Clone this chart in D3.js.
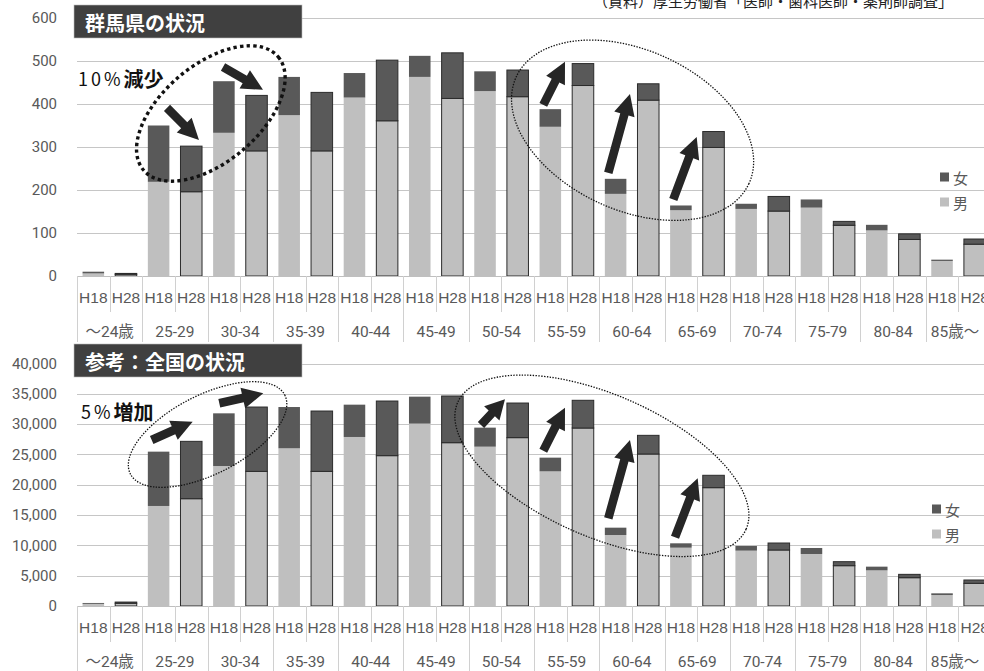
<!DOCTYPE html>
<html>
<head>
<meta charset="utf-8">
<script src="https://cdn.jsdelivr.net/npm/d3@7"></script>
<style>
  html, body { margin: 0; padding: 0; background: #fff; overflow: hidden; }
  svg { display: block; font-family: Roboto, "Noto Sans CJK JP", sans-serif; }
</style>
</head>
<body>
<svg id="chart" width="984" height="671"></svg>
<script>
// age groups and survey years (H18 / H28)
const ageGroups = ["～24歳", "25-29", "30-34", "35-39", "40-44", "45-49", "50-54",
  "55-59", "60-64", "65-69", "70-74", "75-79", "80-84", "85歳～"];
const years = ["H18", "H28"];

// 群馬県 (persons)
const gunmaMaleH18   = [6, 219, 333, 374, 415, 463, 430, 347, 191, 153, 156, 159, 106, 35];
const gunmaFemaleH18 = [4, 131, 120, 89, 57, 49, 46, 41, 35, 11, 12, 19, 13, 3];
const gunmaMaleH28   = [4, 196, 291, 291, 361, 413, 417, 443, 409, 299, 151, 118, 85, 74];
const gunmaFemaleH28 = [2, 106, 129, 136, 141, 106, 62, 51, 38, 37, 34, 9, 13, 12];

// 全国 (persons)
const nationMaleH18   = [350, 16500, 23090, 26010, 27880, 30080, 26280, 22210, 11710, 9620, 9130, 8580, 5880, 1810];
const nationFemaleH18 = [150, 8960, 8690, 6810, 5330, 4450, 3140, 2260, 1210, 720, 770, 990, 610, 280];
const nationMaleH28   = [450, 17700, 22210, 22210, 24800, 26940, 27770, 29360, 25070, 19520, 9240, 6650, 4670, 3740];
const nationFemaleH28 = [200, 9460, 10610, 9950, 9010, 7700, 5710, 4570, 3080, 2040, 1150, 660, 550, 550];

const gunmaTicks = [0, 100, 200, 300, 400, 500, 600];
const nationTicks = [0, 5000, 10000, 15000, 20000, 25000, 30000, 35000, 40000];

const sourceNote = "（資料）厚生労働省「医師・歯科医師・薬剤師調査」";

const COL_F = "#595959", COL_M = "#bfbfbf";

const svg = d3.select("#chart");

function rows(maleA, femaleA, maleB, femaleB){
  const out = [];
  ageGroups.forEach((g, i) => {
    out.push({ key: g + "|H18", group: g, year: "H18", male: maleA[i], female: femaleA[i] });
    out.push({ key: g + "|H28", group: g, year: "H28", male: maleB[i], female: femaleB[i] });
  });
  return out;
}

function arrowPath(x1, y1, x2, y2){
  const dx = x2 - x1, dy = y2 - y1, L = Math.hypot(dx, dy);
  const ux = dx / L, uy = dy / L, nx = -uy, ny = ux;
  const hl = Math.min(21, L * 0.55), sw = 4.3, hw = 10.5;
  const bx = x2 - ux * hl, by = y2 - uy * hl;
  const p = [
    [x1 + nx * sw, y1 + ny * sw], [bx + nx * sw, by + ny * sw], [bx + nx * hw, by + ny * hw],
    [x2, y2],
    [bx - nx * hw, by - ny * hw], [bx - nx * sw, by - ny * sw], [x1 - nx * sw, y1 - ny * sw]
  ];
  return "M" + p.map(d => d.join(",")).join("L") + "Z";
}

function drawChart(o){
  const data = rows(...o.series);
  const keys = data.map(d => d.key);

  const x = d3.scaleBand().domain(keys).range([77, 991]).paddingInner(0.34).paddingOuter(0.17);
  const xc = d3.scaleLinear().domain([0, keys.length]).range([77, 991]); // category units for annotations
  const y = d3.scaleLinear().domain([0, o.max]).range([o.y0, o.y1]);

  const g = svg.append("g");

  // gridlines
  g.append("g").selectAll("line").data(o.ticks.slice(1)).join("line")
    .attr("x1", 77).attr("x2", 991)
    .attr("y1", d => Math.round(y(d)) + 0.5).attr("y2", d => Math.round(y(d)) + 0.5)
    .attr("stroke", "#c6c6c6").attr("stroke-width", 1);

  // y labels
  const ya = d3.axisLeft(y).tickValues(o.ticks).tickSize(0).tickPadding(0).tickFormat(o.fmt);
  const yg = g.append("g").attr("transform", "translate(57,0)").call(ya);
  yg.select(".domain").remove();
  yg.selectAll("text").attr("fill", "#595959").style("font-size", "15px")
    .style("font-family", "Roboto, sans-serif");

  // stacked bars
  const stack = d3.stack().keys(["male", "female"])(data);
  const colors = { male: COL_M, female: COL_F };
  stack.forEach(layer => {
    g.append("g").selectAll("rect").data(layer).join("rect")
      .attr("x", d => x(d.data.key))
      .attr("width", x.bandwidth())
      .attr("y", d => y(d[1]))
      .attr("height", d => Math.max(0, y(d[0]) - y(d[1])))
      .attr("fill", colors[layer.key])
      .attr("stroke", d => d.data.year === "H28" ? "#2b2b2b" : "none")
      .attr("stroke-width", 1);
  });

  // category axis
  const ax = g.append("g");
  ax.append("line").attr("x1", 77).attr("x2", 991)
    .attr("y1", o.y0 + 0.5).attr("y2", o.y0 + 0.5).attr("stroke", "#bfbfbf");
  d3.range(keys.length + 1).forEach(i => {
    const xx = Math.round(xc(i)) + 0.5;
    const long = i % 2 === 0;
    ax.append("line").attr("x1", xx).attr("x2", xx)
      .attr("y1", o.y0).attr("y2", long ? o.y0 + 66 : o.y0 + 36)
      .attr("stroke", "#d0d0d0");
  });
  const xa = d3.axisBottom(x).tickSize(0).tickPadding(0).tickFormat(k => k.split("|")[1]);
  const xg = ax.append("g").attr("transform", `translate(0,${o.y0 + 21})`).call(xa);
  xg.select(".domain").remove();
  xg.selectAll("text").attr("dy", null).attr("dominant-baseline", "central")
    .attr("fill", "#595959").style("font-size", "15.5px");
  ax.append("g").selectAll("text").data(ageGroups).join("text")
    .attr("x", (d, i) => Math.min(xc(i * 2 + 1), 955)) // last label pulled inside the frame
    .attr("y", o.y0 + 56)
    .attr("text-anchor", "middle").attr("dominant-baseline", "central")
    .attr("fill", "#595959").style("font-size", "15.5px")
    .text(d => d);

  // title box
  g.append("rect").attr("x", 74).attr("y", o.titleY).attr("width", 228).attr("height", 33)
    .attr("fill", "#404040").attr("stroke", "#bdbdbd").attr("stroke-width", 0.6);
  g.append("text").attr("x", 85).attr("y", o.titleY + 17).attr("dominant-baseline", "central")
    .attr("fill", "#fff").style("font-family", "'Noto Sans CJK JP', sans-serif")
    .style("font-weight", "bold").style("font-size", "20px").text(o.title);

  // legend
  const lg = g.append("g");
  [["女", COL_F], ["男", COL_M]].forEach(([name, c], i) => {
    const cy = o.legendY + i * 25;
    lg.append("rect").attr("x", o.legendX).attr("y", cy - 4.5).attr("width", 9).attr("height", 9).attr("fill", c);
    lg.append("text").attr("x", o.legendX + 13).attr("y", cy).attr("dominant-baseline", "central")
      .attr("fill", "#595959").style("font-family", "'Noto Sans CJK JP', sans-serif")
      .style("font-size", "15px").text(name);
  });

  // ellipses
  o.ellipses.forEach(e => {
    g.append("ellipse")
      .attr("transform", `translate(${xc(e.c)},${y(e.v)}) rotate(${e.rot})`)
      .attr("rx", e.a).attr("ry", e.b)
      .attr("fill", "none").attr("stroke", "#111")
      .attr("stroke-width", e.thick ? 3.4 : 1.3)
      .attr("stroke-dasharray", e.thick ? "3.4 3.2" : "1.4 1.4");
  });

  // arrows
  g.append("g").selectAll("path").data(o.arrows).join("path")
    .attr("d", d => arrowPath(xc(d[0]), y(d[1]), xc(d[2]), y(d[3])))
    .attr("fill", "#262626");

  // annotation text
  const t = g.append("text").attr("x", o.noteX).attr("y", y(o.noteV)).attr("dominant-baseline", "central")
    .attr("fill", "#111").style("font-family", "'Noto Sans CJK JP', sans-serif");
  t.append("tspan").style("font-size", "18px").style("letter-spacing", "3px").text(o.note[0]);
  t.append("tspan").style("font-size", "20px").style("font-weight", "bold").text(o.note[1]);
}

// source note (cropped at the top edge, as in the original)
svg.append("text").attr("x", 593).attr("y", 6.5)
  .attr("fill", "#222").style("font-family", "'Noto Sans CJK JP', sans-serif")
  .style("font-size", "15px").text(sourceNote);

drawChart({
  series: [gunmaMaleH18, gunmaFemaleH18, gunmaMaleH28, gunmaFemaleH28],
  max: 600, ticks: gunmaTicks, fmt: d3.format("d"),
  y0: 276, y1: 18, titleY: 5, title: "群馬県の状況",
  legendX: 940, legendY: 177,
  note: ["10%", "減少"], noteX: 78, noteV: 460,
  ellipses: [
    { c: 4.10, v: 378, a: 88, b: 48.6, rot: -40, thick: true },
    { c: 17.02, v: 339, a: 128, b: 80, rot: 24.6 }
  ],
  arrows: [
    [2.757, 391, 3.737, 316], [4.473, 486, 5.698, 433],
    [14.285, 398, 14.95, 498], [16.276, 240, 16.94, 423], [18.267, 178, 18.984, 323]
  ]
});

drawChart({
  series: [nationMaleH18, nationFemaleH18, nationMaleH28, nationFemaleH28],
  max: 40000, ticks: nationTicks, fmt: d3.format(","),
  y0: 606, y1: 363.5, titleY: 344, title: "参考：全国の状況",
  legendX: 932, legendY: 509,
  note: ["5%", "増加"], noteX: 81, noteV: 32160,
  ellipses: [
    { c: 4.00, v: 28289, a: 86.7, b: 39.4, rot: -27.1 },
    { c: 16.08, v: 23126, a: 157.5, b: 71, rot: 23.7 }
  ],
  arrows: [
    [2.288, 27381, 3.544, 30400], [4.359, 33435, 5.707, 35085],
    [12.376, 29856, 13.111, 34095], [14.285, 25616, 14.95, 32709],
    [16.276, 14466, 16.94, 27381], [18.32, 11332, 19.015, 21064]
  ]
});
</script>
</body>
</html>
